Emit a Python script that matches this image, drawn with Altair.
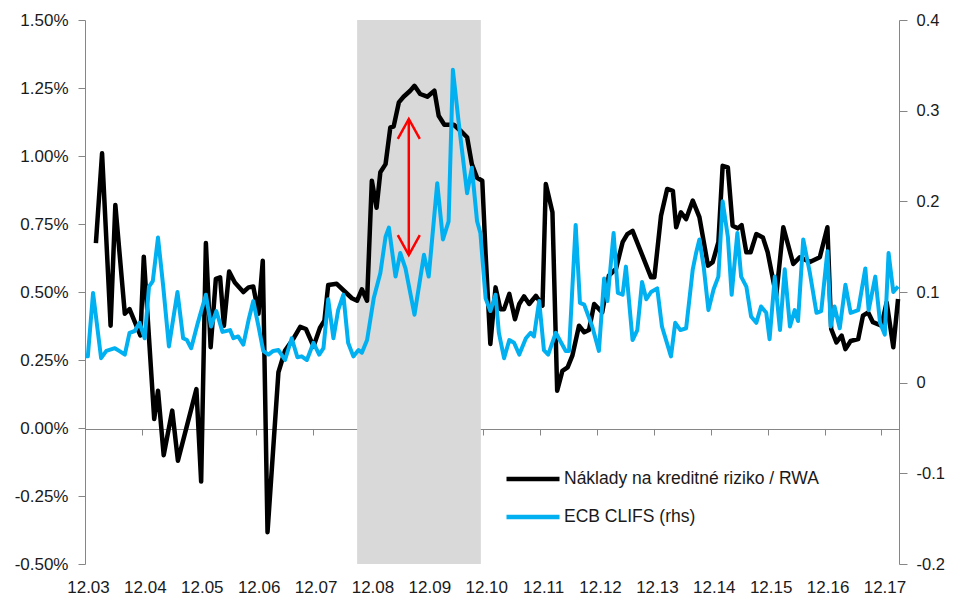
import altair as alt
import pandas as pd

# month index: 0 = December 2003 ("12.03"), 12 = December 2004, ...
cost_t = [2.3,3.6,5.4,6.4,8.4,9.4,11.7,12.4,14.6,15.4,
          16.6,18.4,19.6,23.5,24.5,25.5,26.5,27.6,28.5,29.3,
          30.4,31.6,33.4,34.5,35.5,36.6,37.5,38.5,40.8,42.2,
          43.9,45.4,46.6,48.2,49.6,50.5,51.3,53.1,54.9,56.3,
          57.4,58.4,59.5,60.5,61.5,62.3,63.4,64.4,65.1,66.2,
          67.2,68.6,69.5,70.7,72.2,73.7,74.6,75.8,77.8,79.2,
          80.6,81.6,82.7,83.8,84.5,85.5,86.6,87.6,88.4,89.5,
          90.7,91.6,92.6,93.7,95.1,96.5,97.2,98.6,99.6,100.7,
          101.8,102.8,104.2,105.3,106.3,107.4,109.1,110.5,112.0,113.4,
          114.4,115.5,119.4,120.1,121.5,122.8,124.0,124.7,125.7,126.8,
          128.2,129.6,131.4,132.4,133.6,134.5,135.6,136.6,137.7,138.5,
          139.5,140.4,141.6,143.0,144.0,145.8,147.3,149.4,150.8,152.9,
          155.0,156.6,157.4,158.5,159.6,160.4,161.5,163.1,164.1,165.2,
          166.2,168.0,169.1,170.5,171.5]
# cost of credit risk / RWA, in %
cost_v = [0.68,1.01,0.376,0.82,0.42,0.437,0.34,0.63,0.033,0.137,
          -0.10,0.064,-0.12,0.143,-0.197,0.68,0.297,0.548,0.554,0.376,
          0.575,0.535,0.50,0.517,0.52,0.42,0.615,-0.383,0.205,0.285,
          0.327,0.372,0.364,0.30,0.37,0.394,0.526,0.53,0.50,0.477,
          0.468,0.51,0.468,0.909,0.81,0.94,0.97,1.105,1.108,1.197,
          1.218,1.24,1.258,1.228,1.218,1.24,1.148,1.115,1.115,1.093,
          1.069,0.97,0.92,0.909,0.64,0.309,0.517,0.437,0.437,0.493,
          0.40,0.456,0.484,0.456,0.486,0.45,0.897,0.793,0.137,0.21,
          0.223,0.266,0.376,0.352,0.36,0.456,0.425,0.56,0.585,0.683,
          0.713,0.725,0.554,0.554,0.78,0.879,0.872,0.738,0.793,0.768,
          0.836,0.775,0.597,0.61,0.683,0.964,0.958,0.744,0.734,0.746,
          0.646,0.646,0.713,0.70,0.646,0.486,0.738,0.603,0.628,0.61,
          0.628,0.738,0.364,0.315,0.34,0.29,0.32,0.327,0.413,0.425,
          0.389,0.376,0.462,0.297,0.474]

clifs_t = [0,0.6,1.7,3.4,4.5,6.3,7.2,8.4,9.4,10.5,
           11.5,12.6,13.5,14.3,15.4,16.5,17.7,19.5,20.7,21.5,
           22.4,23.8,25.5,26.6,27.7,29.0,30.6,31.3,32.3,33.4,
           34.5,35.5,36.6,37.6,38.7,39.7,40.8,42.2,43.6,44.8,
           45.7,46.8,48.2,49.4,50.3,51.3,52.4,53.4,54.5,55.5,
           56.6,57.7,58.4,59.5,60.9,62.3,63.4,64.1,65.5,66.5,
           67.6,69.5,71.5,72.5,74.3,75.5,76.7,77.6,78.8,80.6,
           81.6,82.7,83.4,84.5,85.5,86.6,87.3,88.4,89.5,90.5,
           91.6,93.0,94.0,94.7,95.8,96.8,97.7,99.3,101.4,102.1,
           103.5,104.4,105.3,107.0,108.4,109.5,110.2,111.5,112.4,113.4,
           114.1,115.5,116.5,117.5,118.4,119.4,120.7,121.7,123.6,124.5,
           125.6,126.8,128.2,128.9,129.6,130.5,131.5,132.6,133.6,134.5,
           135.6,136.4,137.6,138.4,139.5,140.5,141.6,142.6,143.7,144.4,
           145.5,146.6,147.6,148.7,149.7,150.4,151.5,152.9,154.3,155.3,
           156.6,157.3,158.1,159.2,160.4,161.5,163.1,164.6,165.3,166.7,
           167.7,168.7,169.5,170.5,171.5]
# ECB CLIFS (right axis)
clifs_v = [0.029,0.029,0.099,0.027,0.035,0.038,0.035,0.031,0.055,0.057,
           0.066,0.049,0.106,0.112,0.16,0.106,0.04,0.10,0.049,0.047,
           0.038,0.066,0.097,0.062,0.079,0.056,0.058,0.049,0.051,0.042,
           0.069,0.09,0.062,0.035,0.031,0.035,0.036,0.025,0.049,0.028,
           0.029,0.025,0.044,0.031,0.038,0.092,0.049,0.08,0.097,0.044,
           0.029,0.036,0.033,0.047,0.093,0.121,0.161,0.171,0.117,0.143,
           0.126,0.075,0.141,0.117,0.22,0.158,0.178,0.345,0.288,0.209,
           0.237,0.178,0.165,0.093,0.079,0.097,0.055,0.027,0.047,0.044,
           0.031,0.049,0.055,0.051,0.09,0.036,0.031,0.055,0.035,0.035,
           0.174,0.088,0.086,0.062,0.035,0.115,0.09,0.165,0.099,0.097,
           0.128,0.047,0.058,0.111,0.092,0.10,0.104,0.062,0.029,0.066,
           0.058,0.06,0.125,0.143,0.158,0.128,0.08,0.103,0.117,0.20,
           0.161,0.097,0.165,0.117,0.106,0.073,0.066,0.084,0.077,0.048,
           0.117,0.058,0.125,0.062,0.08,0.068,0.158,0.121,0.077,0.079,
           0.145,0.062,0.084,0.06,0.108,0.077,0.08,0.126,0.08,0.117,
           0.066,0.053,0.143,0.10,0.106]

series_names = ["Náklady na kreditné riziko / RWA", "ECB CLIFS (rhs)"]
series_colors = ["#000000", "#00b0f0"]
year_ticks = [0, 12, 24, 36, 48, 60, 72, 84, 96, 108, 120, 132, 144, 156, 168]
left_ticks = [-0.5, -0.25, 0, 0.25, 0.5, 0.75, 1.0, 1.25, 1.5]
right_ticks = [-0.2, -0.1, 0, 0.1, 0.2, 0.3, 0.4]
crisis_band = [57.4, 83.5]
arrow_t = [68.3]
arrow_top = [1.136]
arrow_bottom = [0.636]

FONT = "Liberation Sans, Arial"
GRAY = "#868686"
TXT = "#1a1a1a"
FS = 17

cost_df = pd.DataFrame({"t": cost_t, "v": cost_v, "series": series_names[0]})
clifs_df = pd.DataFrame({"t": clifs_t, "v": clifs_v, "series": series_names[1]})
band_df = pd.DataFrame({"t0": [crisis_band[0]], "t1": [crisis_band[1]]})
arrow_df = pd.DataFrame({"t": arrow_t, "top": arrow_top, "bottom": arrow_bottom})

xscale = alt.Scale(domain=[0, 171.7], nice=False, zero=False)
xaxis = alt.Axis(values=year_ticks,
                 labelExpr="'12.' + (datum.value/12 + 3 < 10 ? '0' : '') + format(datum.value/12 + 3, 'd')",
                 offset=-135, domainColor=GRAY, tickColor=GRAY, tickSize=6,
                 labelPadding=144, labelFlush=False, labelOffset=3, grid=False, title=None,
                 labelFont=FONT, labelFontSize=FS, labelColor=TXT, labelOverlap=False)

def X(field):
    return alt.X(field, type="quantitative", scale=xscale, axis=xaxis)

lscale = alt.Scale(domain=[-0.5, 1.5], nice=False, zero=False)
rscale = alt.Scale(domain=[-0.2, 0.4], nice=False, zero=False)

color = alt.Color("series:N",
                  scale=alt.Scale(domain=series_names, range=series_colors),
                  legend=alt.Legend(title=None, orient="none", legendX=419, legendY=430,
                                    symbolType="stroke", symbolSize=2809, symbolStrokeWidth=4.5,
                                    labelFont=FONT, labelFontSize=17.5, labelColor=TXT,
                                    labelLimit=0, rowPadding=-2, padding=0, labelOffset=2))

band = alt.Chart(band_df).mark_rect(color="#d9d9d9").encode(x=X("t0"), x2="t1")

black = alt.Chart(cost_df).mark_line(strokeWidth=4.5, strokeJoin="round").encode(
    x=X("t"),
    y=alt.Y("v:Q", scale=lscale,
            axis=alt.Axis(orient="left", values=left_ticks, title=None, grid=False,
                          labelExpr="(datum.value < 0 ? '-' : '') + format(abs(datum.value), '.2f') + '%'",
                          domainColor=GRAY, tickColor=GRAY, tickSize=7, labelPadding=10,
                          labelFont=FONT, labelFontSize=FS, labelColor=TXT)),
    color=color)

shaft = alt.Chart(arrow_df).mark_rule(color="#ff0000", strokeWidth=2.5).encode(
    x=X("t"), y=alt.Y("top:Q", scale=lscale, axis=None), y2="bottom")
head_top = alt.Chart(arrow_df).mark_point(shape="M -1 1.8 L 0 0 L 1 1.8", filled=False,
                                          color="#ff0000", strokeWidth=2.5, size=484, opacity=1).encode(
    x=X("t"), y=alt.Y("top:Q", scale=lscale, axis=None))
head_bot = alt.Chart(arrow_df).mark_point(shape="M -1 -1.8 L 0 0 L 1 -1.8", filled=False,
                                          color="#ff0000", strokeWidth=2.5, size=484, opacity=1).encode(
    x=X("t"), y=alt.Y("bottom:Q", scale=lscale, axis=None))

blue = alt.Chart(clifs_df).mark_line(strokeWidth=4, strokeJoin="round").encode(
    x=X("t"),
    y=alt.Y("v:Q", scale=rscale,
            axis=alt.Axis(orient="right", values=right_ticks, title=None, grid=False,
                          labelExpr="(datum.value < 0 ? '-' : '') + format(abs(datum.value), '~g')",
                          domainColor=GRAY, tickColor=GRAY, tickSize=8, labelPadding=9,
                          labelFont=FONT, labelFontSize=16.5, labelColor=TXT)),
    color=color)

chart = alt.layer(band, black, shaft, head_top, head_bot, blue).resolve_scale(
    y="independent"
).properties(
    width=814, height=544,
    autosize=alt.AutoSizeParams(type="none"),
    padding={"left": 77, "top": 12, "right": 46, "bottom": 36},
    background="white",
).configure_view(strokeWidth=0)

chart.save("out.html", embed_options={"renderer": "svg", "actions": False})
